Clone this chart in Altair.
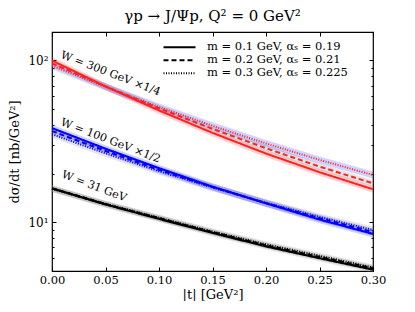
import altair as alt
import pandas as pd

# ---------------- data ----------------
t = [0.0, 0.05, 0.10, 0.15, 0.20, 0.25, 0.30]

w31_m1 = [16.2, 12.9, 10.5, 8.6, 7.1, 6.0, 5.1]
w31_m2 = [16.2, 12.95, 10.6, 8.7, 7.2, 6.1, 5.2]
w31_m3 = [16.1, 13.0, 10.65, 8.75, 7.3, 6.2, 5.25]

w100_m1 = [38.2, 28.5, 21.6, 16.6, 13.1, 10.4, 8.47]
w100_m2 = [36.6, 27.6, 21.1, 16.5, 13.15, 10.6, 8.7]
w100_m3 = [35.0, 26.7, 20.7, 16.4, 13.2, 10.8, 8.96]

w300_m1 = [100.0, 69.2, 49.1, 35.7, 26.6, 20.4, 16.0]
w300_m2 = [96.0, 69.1, 50.7, 37.8, 28.7, 22.1, 17.4]
w300_m3 = [93.0, 68.6, 51.6, 39.5, 30.7, 24.3, 19.6]

# relative half-width of the uncertainty band of each curve
band_frac_31 = [0.045, 0.045, 0.045]
band_frac_100 = [0.05, 0.05, 0.05]
band_frac_300 = [0.05, 0.05, 0.05]

models = ["m = 0.1 GeV, αₛ = 0.19",
          "m = 0.2 GeV, αₛ = 0.21",
          "m = 0.3 GeV, αₛ = 0.225"]
energies = ["31", "100", "300"]

label_text = ["W = 300 GeV ×1/4", "W = 100 GeV ×1/2", "W = 31 GeV"]
label_t = [0.0075, 0.0075, 0.0085]
label_y = [104.0, 40.0, 19.0]

x_ticks = [0.0, 0.05, 0.10, 0.15, 0.20, 0.25, 0.30]
y_major = [10, 100]
y_minor = [5, 6, 7, 8, 9, 20, 30, 40, 50, 60, 70, 80, 90]

# ---------------- build table ----------------
curves = {
    "31": ([w31_m1, w31_m2, w31_m3], band_frac_31),
    "100": ([w100_m1, w100_m2, w100_m3], band_frac_100),
    "300": ([w300_m1, w300_m2, w300_m3], band_frac_300),
}
rows = []
for w in energies:
    vals, fr = curves[w]
    for i, v in enumerate(vals):
        for tt, yy in zip(t, v):
            rows.append({"t": tt, "y": yy, "lo": yy * (1 - fr[i]), "hi": yy * (1 + fr[i]),
                         "W": w, "model": models[i], "band": f"{w}-{i}",
                         "grp": f"{w}-{i}"})
df = pd.DataFrame(rows)
labels = pd.DataFrame({"t": label_t, "y": label_y, "text": label_text})

FONT = "DejaVu Serif"
xs = alt.Scale(domain=[0, 0.3], nice=False, zero=False, padding=0)
ys = alt.Scale(type="log", domain=[5, 150], nice=False, zero=False, padding=0)

band_keys = ["31-0", "31-1", "31-2", "100-0", "100-1", "100-2", "300-0", "300-1", "300-2"]
band_cols = ["#888888", "#888888", "#888888", "#3030ff", "#3030ff", "#888888",
             "#ff3030", "#888888", "#3030ff"]

def xaxis(orient, labels_on):
    return alt.Axis(orient=orient, values=x_ticks, format=".2f", offset=-4, tickSize=4,
                    domain=False, grid=False, labels=labels_on, labelPadding=3,
                    labelFlush=False,
                    labelFont=FONT, labelFontSize=11.5, tickColor="black",
                    title="|t| [GeV²]" if labels_on else None,
                    titleFont=FONT, titleFontSize=13, titleFontWeight="normal",
                    titlePadding=3)

def yaxis(orient, vals, size, labels_on):
    return alt.Axis(orient=orient, values=vals, offset=-size, tickSize=size,
                    domain=False, grid=False, labels=labels_on, labelPadding=4,
                    labelFlush=False,
                    labelExpr="datum.value == 10 ? '10¹' : '10²'",
                    labelFont=FONT, labelFontSize=12, tickColor="black",
                    title="dσ/dt [nb/GeV²]" if labels_on else None,
                    titleFont=FONT, titleFontSize=13, titleFontWeight="normal",
                    titlePadding=6)

bands = alt.Chart(df).mark_area(opacity=0.22).encode(
    x=alt.X("t:Q", scale=xs, axis=xaxis("bottom", True)),
    y=alt.Y("lo:Q", scale=ys, axis=yaxis("left", y_major, 4, True)),
    y2="hi:Q",
    color=alt.Color("band:N", scale=alt.Scale(domain=band_keys, range=band_cols), legend=None),
    detail="grp:N",
)

lines = alt.Chart(df).mark_line().encode(
    x=alt.X("t:Q", scale=xs, axis=xaxis("top", False)),
    y=alt.Y("y:Q", scale=ys, axis=yaxis("left", y_minor, 2, False)),
    stroke=alt.Stroke("W:N", scale=alt.Scale(domain=energies, range=["black", "#0000ff", "#ff2020"]),
                      legend=None),
    strokeWidth=alt.StrokeWidth("W:N", scale=alt.Scale(domain=energies, range=[2.2, 2.0, 1.1]),
                                legend=None),
    strokeDash=alt.StrokeDash(
        "model:N",
        scale=alt.Scale(domain=models, range=[[1, 0], [5, 3], [1, 1.5]]),
        legend=alt.Legend(title=None, orient="none", legendX=110, legendY=9,
                          symbolType="stroke", symbolSize=1024, symbolStrokeWidth=2.2,
                          symbolStrokeColor="black", labelFont=FONT, labelFontSize=11.5,
                          labelOffset=10, rowPadding=0, padding=0, labelLimit=300,
                          clipHeight=12.5),
    ),
    detail="grp:N",
)

texts = alt.Chart(labels).mark_text(align="left", baseline="alphabetic", angle=21,
                                    font=FONT, fontSize=11, color="black").encode(
    x=alt.X("t:Q", scale=xs, axis=None),
    y=alt.Y("y:Q", scale=ys, axis=yaxis("right", y_major, 4, False)),
    text="text:N",
)

ghost = alt.Chart(labels).mark_rule(opacity=0).encode(
    x=alt.X("t:Q", scale=xs, axis=None),
    y=alt.Y("y:Q", scale=ys, axis=yaxis("right", y_minor, 2, False)),
)

chart = alt.layer(bands, lines, texts, ghost).resolve_axis(
    x="independent", y="independent"
).properties(
    width=321, height=239,
    title=alt.TitleParams("γp → J/Ψp, Q² = 0 GeV²", font=FONT, fontSize=15,
                          fontWeight="normal", anchor="middle", offset=8),
    autosize=alt.AutoSizeParams(type="none"),
    padding={"left": 44, "top": 24, "right": 20, "bottom": 30},
).configure_view(stroke="black", strokeWidth=1.2)

chart.save("out.html", embed_options={"renderer": "svg", "actions": False})
